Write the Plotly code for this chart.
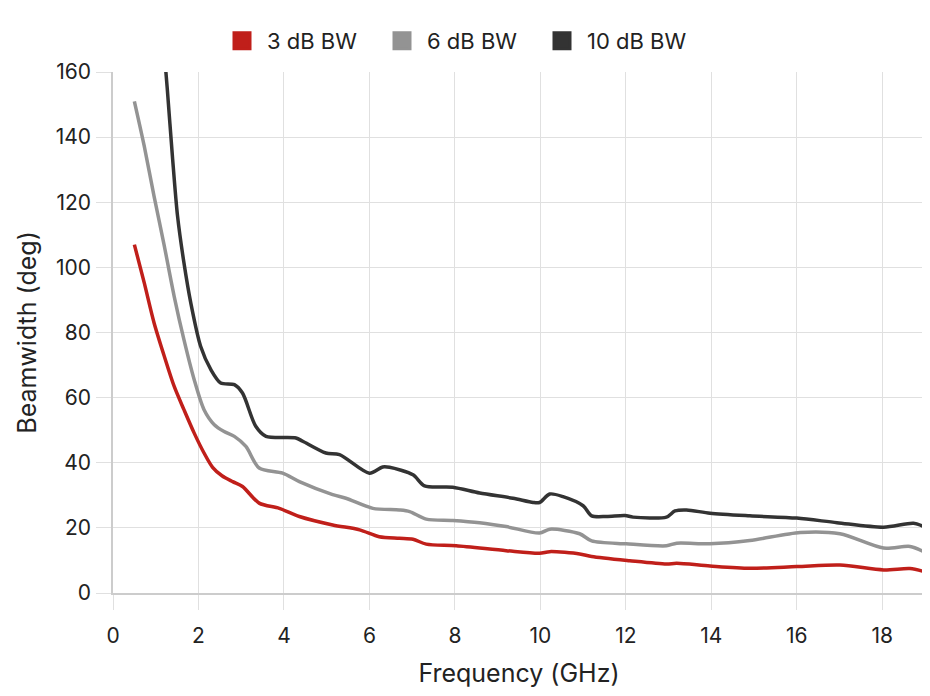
import plotly.graph_objects as go

# 3 dB beamwidth
f3 = [0.5, 0.73, 0.96, 1.2, 1.43, 1.66, 1.9, 2.13, 2.33, 2.55, 2.8, 3.03, 3.42, 3.89, 4.36, 5.14,
      5.77, 6.23, 6.7, 7.02, 7.33, 8.03, 9.2, 9.98, 10.22, 10.92, 11.2, 12.09, 12.95, 13.19, 13.97,
      14.9, 16.0, 17.01, 18.03, 18.65, 18.97]
bw3 = [107, 95.3, 83, 72.7, 63.5, 56.3, 49.1, 43, 38.6, 36, 34.2, 32.7, 27.6, 26, 23.5, 20.9,
       19.4, 17.3, 16.8, 16.5, 15, 14.5, 13, 12.2, 12.7, 12, 11.2, 9.9, 8.9, 9.1, 8.3,
       7.6, 8.1, 8.6, 7.1, 7.5, 6.6]

# 6 dB beamwidth
f6 = [0.5, 0.73, 0.96, 1.2, 1.43, 1.66, 1.9, 2.13, 2.37, 2.6, 2.84, 3.11, 3.42, 3.97, 4.36, 5.14,
      5.45, 6.08, 6.7, 6.94, 7.33, 7.95, 8.58, 9.2, 9.98, 10.22, 10.92, 11.2, 12.01, 12.95, 13.19,
      13.97, 14.9, 16.08, 17.01, 18.03, 18.65, 18.97]
bw6 = [151, 137.3, 121.9, 106.6, 91.2, 77.8, 65.5, 56.3, 51.7, 49.6, 48.1, 45, 38.4, 36.8, 34.2,
       30.2, 29.1, 26, 25.5, 25, 22.7, 22.3, 21.6, 20.4, 18.4, 19.6, 18.2, 16, 15.1, 14.5, 15.3,
       15.1, 16.1, 18.6, 18.2, 13.8, 14.3, 12.7]

# 10 dB beamwidth
f10 = [1.2, 1.27, 1.39, 1.51, 1.66, 1.82, 2.05, 2.29, 2.52, 2.84, 3.03, 3.34, 3.58, 4.28, 4.44,
       4.98, 5.3, 6.0, 6.31, 6.47, 7.02, 7.29, 7.95, 8.58, 9.36, 9.83, 9.98, 10.22, 10.53, 11.0,
       11.2, 11.55, 11.98, 12.17, 12.95, 13.15, 13.42, 13.97, 14.9, 16.0, 16.94, 18.03, 18.73, 18.97]
bw10 = [166, 154.8, 134.2, 115.8, 101.4, 89.1, 75.8, 68.6, 64.5, 64, 61.4, 51.2, 48.1, 47.6, 46.6,
        43, 42.5, 36.8, 38.7, 38.6, 36.3, 32.9, 32.5, 30.7, 29.1, 27.8, 27.8, 30.4, 29.6, 26.8,
        23.7, 23.5, 23.8, 23.3, 23.3, 25.2, 25.5, 24.5, 23.7, 23, 21.6, 20.2, 21.4, 20.4]

series = [
    ("3 dB BW", f3, bw3, "#C01F1A"),
    ("6 dB BW", f6, bw6, "#939393"),
    ("10 dB BW", f10, bw10, "#333333"),
]

FONT = "Inter"
W, H = 922, 688  # page body has an 8px margin

fig = go.Figure()
for name, x, y, c in series:
    fig.add_trace(go.Scatter(x=x, y=y, mode="lines", name=name, showlegend=False,
                             line=dict(color=c, width=3.5, shape="spline", smoothing=0.8)))
for name, x, y, c in series:
    fig.add_trace(go.Scatter(x=[None], y=[None], mode="markers", name=name,
                             marker=dict(symbol="square", size=20, color=c,
                                         line=dict(color=c, width=3))))

grid = "#e0e0e0"
fig.update_layout(
    width=W, height=H,
    margin=dict(l=105, r=5, t=64, b=103),
    paper_bgcolor="white", plot_bgcolor="white",
    font=dict(family=FONT, size=21, color="#222222"),
    legend=dict(orientation="h", xref="container", yref="container",
                x=209 / W, xanchor="left", y=1 - 33 / H, yanchor="middle",
                font=dict(size=22), itemwidth=40,
                entrywidth=105, entrywidthmode="pixels"),
    xaxis=dict(range=[0, 19], tick0=0, dtick=2, showgrid=True, gridcolor=grid, gridwidth=1.3,
               ticks="outside", ticklen=15, tickcolor=grid, tickwidth=1.3,
               showline=True, linecolor="#cccccc", linewidth=1.5, zeroline=False,
               ticklabelstandoff=8,
               title=dict(text="Frequency (GHz)", standoff=18), automargin=False),
    yaxis=dict(range=[0, 160], tick0=0, dtick=20, showgrid=True, gridcolor=grid, gridwidth=1.3,
               ticks="outside", ticklen=15, tickcolor=grid, tickwidth=1.3,
               showline=True, linecolor="#cccccc", linewidth=1.5, zeroline=False,
               ticklabelstandoff=1,
               title=dict(text="Beamwidth (deg)", standoff=12), automargin=False),
)

fig.write_html("out.html")
